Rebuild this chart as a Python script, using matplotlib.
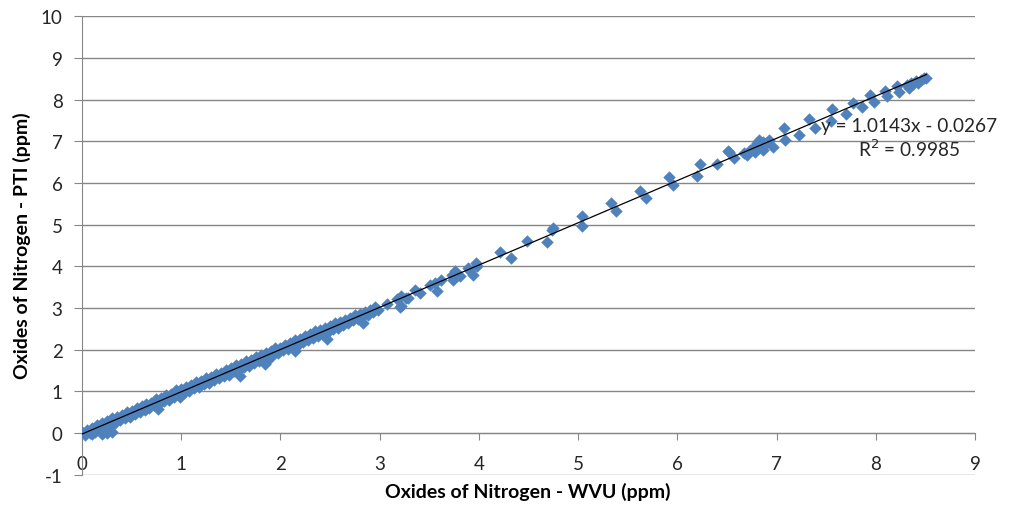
import matplotlib
matplotlib.use("Agg")
import matplotlib.pyplot as plt

plt.rcParams['font.family'] = ['Lato', 'DejaVu Sans']
plt.rcParams['axes.unicode_minus'] = False

# dense band, upper row
band_a_x = [0.00, 0.05, 0.10, 0.15, 0.20, 0.25, 0.30, 0.35, 0.40, 0.45,
            0.50, 0.55, 0.60, 0.65, 0.70, 0.75, 0.80, 0.85, 0.90, 0.95,
            1.00, 1.05, 1.10, 1.15, 1.20, 1.25, 1.30, 1.35, 1.40, 1.45,
            1.50, 1.55, 1.60, 1.65, 1.70, 1.75, 1.80, 1.85, 1.90, 1.95,
            2.00, 2.05, 2.10, 2.15, 2.20, 2.25, 2.30, 2.35, 2.40, 2.45,
            2.50, 2.55, 2.60, 2.65, 2.70, 2.75, 2.80, 2.85, 2.90, 2.95]
band_a_y = [0.02, 0.08, 0.13, 0.20, 0.23, 0.29, 0.35, 0.38, 0.44, 0.50,
            0.53, 0.61, 0.64, 0.70, 0.73, 0.81, 0.85, 0.91, 0.94, 1.02,
            1.05, 1.11, 1.14, 1.22, 1.25, 1.31, 1.35, 1.42, 1.44, 1.51,
            1.56, 1.63, 1.66, 1.72, 1.75, 1.83, 1.86, 1.92, 1.96, 2.03,
            2.05, 2.12, 2.16, 2.23, 2.26, 2.33, 2.37, 2.44, 2.46, 2.53,
            2.57, 2.64, 2.66, 2.72, 2.76, 2.82, 2.85, 2.91, 2.96, 3.02]

# dense band, lower row
band_b_x = [0.03, 0.08, 0.13, 0.18, 0.23, 0.28, 0.33, 0.38, 0.43, 0.48,
            0.53, 0.58, 0.63, 0.68, 0.73, 0.78, 0.83, 0.88, 0.93, 0.98,
            1.03, 1.08, 1.13, 1.18, 1.23, 1.28, 1.33, 1.38, 1.43, 1.48,
            1.53, 1.58, 1.63, 1.68, 1.73, 1.78, 1.83, 1.88, 1.93, 1.98,
            2.03, 2.08, 2.13, 2.18, 2.23, 2.28, 2.33, 2.38, 2.43, 2.48,
            2.53, 2.58, 2.63, 2.68, 2.73, 2.78, 2.83, 2.88, 2.93, 2.98]
band_b_y = [-0.05, -0.01, 0.03, 0.10, 0.14, 0.21, 0.23, 0.30, 0.36, 0.39,
            0.46, 0.50, 0.56, 0.59, 0.66, 0.70, 0.77, 0.80, 0.87, 0.91,
            0.97, 1.00, 1.07, 1.11, 1.17, 1.20, 1.27, 1.31, 1.37, 1.40,
            1.48, 1.52, 1.58, 1.61, 1.68, 1.72, 1.78, 1.81, 1.88, 1.92,
            1.98, 2.01, 2.08, 2.12, 2.19, 2.22, 2.29, 2.33, 2.39, 2.42,
            2.49, 2.53, 2.59, 2.63, 2.70, 2.74, 2.80, 2.84, 2.91, 2.95]

# points that sit below the band
low_x = [0.10, 0.20, 0.25, 0.30, 0.77, 0.99, 1.59, 1.84, 1.86, 2.15, 2.47, 2.83]
low_y = [-0.03, -0.02, 0.00, 0.02, 0.57, 0.86, 1.37, 1.65, 1.73, 1.97, 2.25, 2.65]

# sparse points above 3 ppm
upper_x = [3.07, 3.17, 3.20, 3.21, 3.22, 3.27, 3.29, 3.36, 3.41, 3.51,
           3.56, 3.58, 3.62, 3.73, 3.74, 3.76, 3.81, 3.89, 3.91, 3.94,
           3.97, 3.98, 4.21, 4.32, 4.48, 4.69, 4.74, 4.75, 5.04, 5.04,
           5.33, 5.38, 5.62, 5.68, 5.92, 5.96, 6.20, 6.23, 6.40, 6.51,
           6.52, 6.57, 6.67, 6.70, 6.73, 6.77, 6.78, 6.80, 6.82, 6.83,
           6.86, 6.86, 6.89, 6.92, 6.96, 7.08, 7.09, 7.23, 7.33, 7.39,
           7.55, 7.56, 7.70, 7.77, 7.86, 7.94, 7.98, 8.09, 8.11, 8.21,
           8.23, 8.31, 8.33, 8.35, 8.38, 8.41, 8.43, 8.46, 8.49, 8.51]
upper_y = [3.09, 3.21, 3.02, 3.05, 3.28, 3.25, 3.23, 3.44, 3.35, 3.56,
           3.60, 3.40, 3.68, 3.80, 3.68, 3.88, 3.76, 3.96, 3.88, 3.80,
           4.08, 4.00, 4.34, 4.20, 4.62, 4.58, 4.88, 4.92, 5.22, 4.98,
           5.53, 5.32, 5.82, 5.63, 6.14, 5.95, 6.18, 6.46, 6.45, 6.78,
           6.75, 6.60, 6.72, 6.67, 6.79, 6.86, 6.75, 6.97, 7.03, 6.87,
           6.79, 6.99, 6.95, 7.03, 6.87, 7.31, 7.03, 7.15, 7.54, 7.31,
           7.49, 7.77, 7.65, 7.93, 7.82, 8.11, 7.95, 8.21, 8.09, 8.33,
           8.19, 8.35, 8.29, 8.40, 8.37, 8.45, 8.39, 8.48, 8.51, 8.52]

slope = 1.0143
intercept = -0.0267
fit_x = [0.0, 8.51]

x_ticks = [0, 1, 2, 3, 4, 5, 6, 7, 8, 9]
y_ticks = [-1, 0, 1, 2, 3, 4, 5, 6, 7, 8, 9, 10]

blue = '#4F81BD'
grey = '#868686'
txt = '#262626'

fig = plt.figure(figsize=(10.13, 5.06), dpi=100)
ax = fig.add_axes([82 / 1013, 30 / 506, 893 / 1013, 459 / 506])

all_x = band_a_x + band_b_x + low_x + upper_x
all_y = band_a_y + band_b_y + low_y + upper_y
ax.scatter(all_x, all_y, marker='D', s=40, color=blue, linewidths=0, zorder=3)

fit_y = [slope * v + intercept for v in fit_x]
ax.plot(fit_x, fit_y, color='black', lw=0.9, zorder=4)

ax.set_xlim(0, 9)
ax.set_ylim(-1.01, 10.01)
ax.set_xticks(x_ticks)
ax.set_yticks(y_ticks)

ax.spines['top'].set_visible(False)
ax.spines['right'].set_visible(False)
ax.spines['bottom'].set_position(('data', 0))
ax.spines['bottom'].set_color(grey)
ax.spines['left'].set_color(grey)

ax.yaxis.grid(True, color=grey, lw=1)
ax.set_axisbelow(True)

ax.tick_params(axis='x', direction='out', length=5, color=grey, pad=11,
               labelsize=13.5, labelcolor=txt)
ax.tick_params(axis='y', direction='out', length=6, color=grey, pad=8,
               labelsize=13.5, labelcolor=txt)

ax.text(8.34, 7.39, 'y = 1.0143x - 0.0267', ha='center', va='center',
        fontsize=13.7, color=txt)
ax.text(8.34, 6.84, 'R$^2$ = 0.9985', ha='center', va='center',
        fontsize=13.7, color=txt)

fig.text(528 / 1013, 1 - 492 / 506, 'Oxides of Nitrogen - WVU (ppm)',
         ha='center', va='center', fontsize=14, fontweight='bold', color='black')
fig.text(22 / 1013, 1 - 246 / 506, 'Oxides of Nitrogen - PTI (ppm)',
         ha='center', va='center', rotation=90, fontsize=14,
         fontweight='bold', color='black')

fig.savefig('out.png', dpi=100)
